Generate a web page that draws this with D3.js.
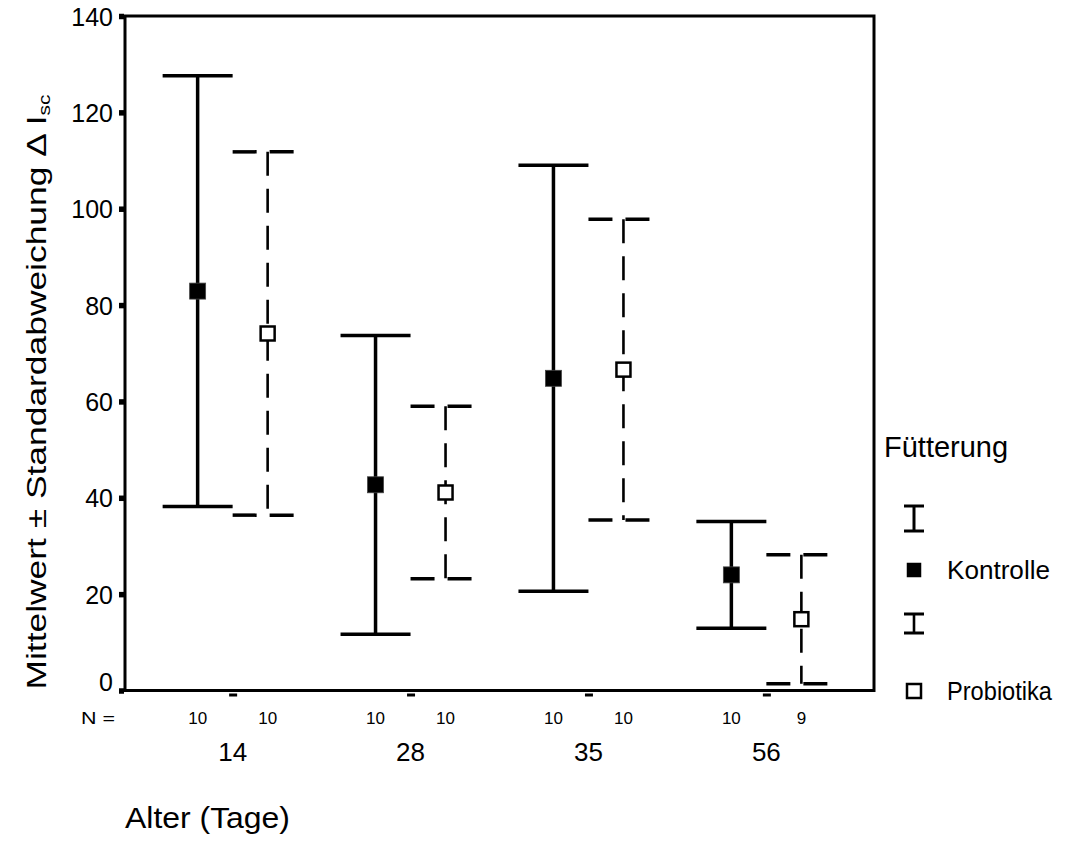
<!DOCTYPE html>
<html>
<head>
<meta charset="utf-8">
<script src="https://cdn.jsdelivr.net/npm/d3@7"></script>
<style>
  body { margin: 0; background: #fff; }
  text { font-family: "Liberation Sans", Arial, sans-serif; fill: #000; }
</style>
</head>
<body>
<div id="chart"></div>
<script>
// Alter (Tage) categories and the two feeding groups
var categories = ["14", "28", "35", "56"];
var seriesNames = ["Kontrolle", "Probiotika"];

// Mittelwert and Standardabweichung
var kontrolleMean = [82.9, 42.7, 64.8, 24.0];
var kontrolleSD = [44.7, 31.0, 44.2, 11.1];
var probiotikaMean = [74.1, 41.1, 66.6, 14.8];
var probiotikaSD = [37.7, 17.9, 31.2, 13.4];

// N per bar
var kontrolleN = [10, 10, 10, 10];
var probiotikaN = [10, 10, 10, 9];

var yTicks = [0, 20, 40, 60, 80, 100, 120, 140];

var width = 1070, height = 851;
var plotLeft = 125, plotRight = 874, plotTop = 16, plotBottom = 690.5;

var svg = d3.select("#chart").append("svg")
    .attr("width", width)
    .attr("height", height);

var y = d3.scaleLinear().domain([0, 140]).range([plotBottom, plotTop]);
var x = d3.scalePoint().domain(categories).range([plotLeft, plotRight]).padding(0.605);
var sub = d3.scaleBand().domain(seriesNames).range([-70, 70]);

var series = [
    { name: "Kontrolle", mean: kontrolleMean, sd: kontrolleSD, n: kontrolleN, dashed: false },
    { name: "Probiotika", mean: probiotikaMean, sd: probiotikaSD, n: probiotikaN, dashed: true }
];

// frame
svg.append("rect")
    .attr("x", plotLeft).attr("y", plotTop)
    .attr("width", plotRight - plotLeft).attr("height", plotBottom - plotTop)
    .attr("fill", "none").attr("stroke", "#000").attr("stroke-width", 3);

// y axis: square tick marks
var yAxis = svg.append("g")
    .attr("transform", "translate(" + (plotLeft - 1) + ",0)")
    .call(d3.axisLeft(y).tickValues(yTicks).tickSize(5).tickPadding(6));
yAxis.select(".domain").remove();
yAxis.selectAll(".tick line").attr("stroke", "#000").attr("stroke-width", 5.5);
yAxis.selectAll(".tick text")
    .style("font-size", "25px")
    .attr("dy", "0.36em")
    .attr("font-family", null);
yAxis.selectAll(".tick text").filter(function (d) { return d === 0; }).attr("dy", "0.0em");

// x axis: small dashes under each category
var xAxis = svg.append("g")
    .attr("transform", "translate(0," + (plotBottom + 3) + ")")
    .call(d3.axisBottom(x).tickSize(3).tickFormat(""));
xAxis.select(".domain").remove();
xAxis.selectAll(".tick line").attr("stroke", "#000").attr("stroke-width", 8);

// category labels
svg.append("g").selectAll("text")
    .data(categories)
    .enter().append("text")
    .attr("x", function (d) { return x(d); })
    .attr("y", 752)
    .attr("dy", "0.36em")
    .attr("text-anchor", "middle")
    .style("font-size", "26px")
    .text(function (d) { return d; });

// N row
svg.append("text")
    .attr("x", 98).attr("y", 718).attr("dy", "0.36em")
    .attr("text-anchor", "middle")
    .attr("textLength", 34)
    .attr("lengthAdjust", "spacingAndGlyphs")
    .style("font-size", "17px")
    .text("N =");

series.forEach(function (s) {
    svg.append("g").selectAll("text")
        .data(categories)
        .enter().append("text")
        .attr("x", function (d) { return x(d) + sub(s.name) + sub.bandwidth() / 2; })
        .attr("y", 718)
        .attr("dy", "0.36em")
        .attr("text-anchor", "middle")
        .style("font-size", "17px")
        .text(function (d, i) { return s.n[i]; });
});

// error bars
series.forEach(function (s) {
    var g = svg.append("g");
    var half = sub.bandwidth() / 2;
    var dash = s.dashed ? "24,13" : null;
    var items = categories.map(function (c, i) {
        return { cx: x(c) + sub(s.name) + half, m: s.mean[i], sd: s.sd[i] };
    });

    g.selectAll(".vert")
        .data(items)
        .enter().append("line")
        .attr("class", "vert")
        .attr("x1", function (d) { return d.cx; })
        .attr("x2", function (d) { return d.cx; })
        .attr("y1", function (d) { return y(d.m + d.sd); })
        .attr("y2", function (d) { return y(d.m - d.sd); })
        .attr("stroke", "#000")
        .attr("stroke-width", s.dashed ? 2.6 : 3.5)
        .attr("stroke-dasharray", dash);

    ["top", "bot"].forEach(function (k) {
        g.selectAll(".cap-" + k)
            .data(items)
            .enter().append("line")
            .attr("class", "cap-" + k)
            .attr("x1", function (d) { return d.cx - half; })
            .attr("x2", function (d) { return d.cx + half; })
            .attr("y1", function (d) { return y(k === "top" ? d.m + d.sd : d.m - d.sd); })
            .attr("y2", function (d) { return y(k === "top" ? d.m + d.sd : d.m - d.sd); })
            .attr("stroke", "#000")
            .attr("stroke-width", 3.5)
            .attr("stroke-dasharray", dash);
    });

    var ms = s.dashed ? 14 : 16;
    g.selectAll(".mark")
        .data(items)
        .enter().append("rect")
        .attr("class", "mark")
        .attr("x", function (d) { return d.cx - ms / 2; })
        .attr("y", function (d) { return y(d.m) - ms / 2; })
        .attr("width", ms).attr("height", ms)
        .attr("fill", s.dashed ? "#fff" : "#000")
        .attr("stroke", s.dashed ? "#000" : "#444")
        .attr("stroke-width", s.dashed ? 2.5 : 0.8);
});

// axis titles
svg.append("text")
    .attr("transform", "translate(36," + 392 + ") rotate(-90)")
    .attr("text-anchor", "middle")
    .attr("dy", "0.36em")
    .attr("textLength", 595)
    .attr("lengthAdjust", "spacingAndGlyphs")
    .style("font-size", "27px")
    .call(function (t) {
        t.append("tspan").text("Mittelwert \u00b1 Standardabweichung \u0394 I");
        t.append("tspan").attr("dy", "0.25em").style("font-size", "16px").text("sc");
    });

svg.append("text")
    .attr("x", 125).attr("y", 818).attr("dy", "0.36em")
    .attr("textLength", 165)
    .attr("lengthAdjust", "spacingAndGlyphs")
    .style("font-size", "29px")
    .text("Alter (Tage)");

// legend
var lg = svg.append("g");
lg.append("text")
    .attr("x", 884).attr("y", 447).attr("dy", "0.36em")
    .style("font-size", "29px")
    .text("F\u00fctterung");

var legendRows = [
    { name: "Kontrolle", barTop: 506, barBot: 531, mark: 570, dashed: false },
    { name: "Probiotika", barTop: 614, barBot: 633, mark: 691, dashed: true }
];
legendRows.forEach(function (r) {
    var cx = 914;
    lg.append("line")
        .attr("x1", cx).attr("x2", cx).attr("y1", r.barTop).attr("y2", r.barBot)
        .attr("stroke", "#000").attr("stroke-width", r.dashed ? 2.6 : 3);
    lg.append("line")
        .attr("x1", cx - 10).attr("x2", cx + 10).attr("y1", r.barTop).attr("y2", r.barTop)
        .attr("stroke", "#000").attr("stroke-width", 3);
    lg.append("line")
        .attr("x1", cx - 10).attr("x2", cx + 10).attr("y1", r.barBot).attr("y2", r.barBot)
        .attr("stroke", "#000").attr("stroke-width", 3);
    lg.append("rect")
        .attr("x", cx - 7).attr("y", r.mark - 7)
        .attr("width", 14).attr("height", 14)
        .attr("fill", r.dashed ? "#fff" : "#000")
        .attr("stroke", "#000").attr("stroke-width", r.dashed ? 2.5 : 0.5);
    lg.append("text")
        .attr("x", 947).attr("y", r.mark).attr("dy", "0.36em")
        .attr("textLength", r.dashed ? 105 : 103)
        .attr("lengthAdjust", "spacingAndGlyphs")
        .style("font-size", "25px")
        .text(r.name);
});
</script>
</body>
</html>
